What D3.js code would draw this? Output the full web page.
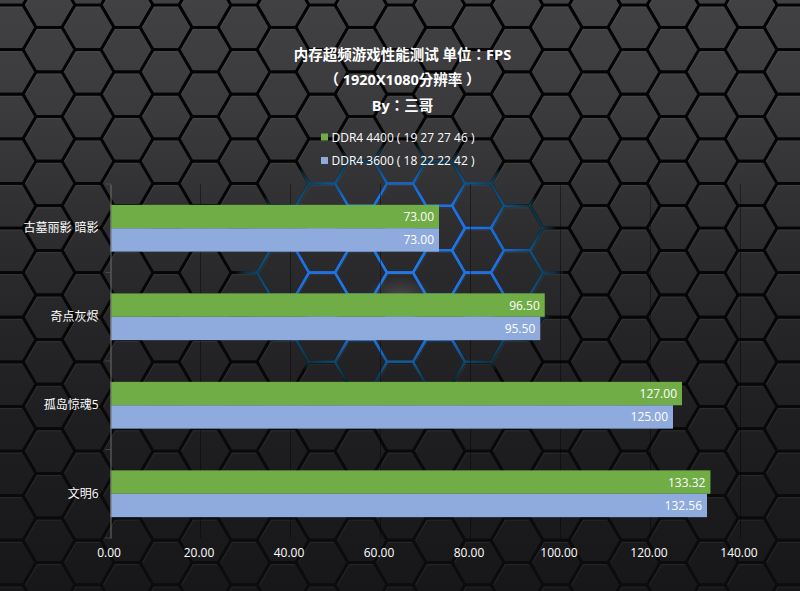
<!DOCTYPE html>
<html><head><meta charset="utf-8">
<script src="https://d3js.org/d3.v7.min.js"></script>
<style>html,body{margin:0;padding:0;background:#222;overflow:hidden}svg{display:block}text{font-family:"Open Sans","Noto Sans CJK SC",sans-serif;fill:#fff}</style>
</head><body><svg id="c" width="800" height="591"></svg>
<script>
const titleLines = ["内存超频游戏性能测试 单位：FPS", "（ 1920X1080分辨率 ）", "By：三哥"];
const categories = ["古墓丽影 暗影", "奇点灰烬", "孤岛惊魂5", "文明6"];
const seriesNames = ["DDR4 4400 ( 19 27 27 46 )", "DDR4 3600 ( 18 22 22 42 )"];
const seriesColors = ["#70ad47", "#8faadc"];
const ddr4400 = [73.00, 96.50, 127.00, 133.32];
const ddr3600 = [73.00, 95.50, 125.00, 132.56];
const xTicks = [0, 20, 40, 60, 80, 100, 120, 140];

const W = 800, H = 591;
const plot = {left: 110.5, right: 740.5, top: 184, bottom: 538};
const svg = d3.select("#c");
const defs = svg.append("defs");

// page background gradient
const bg = defs.append("linearGradient").attr("id","bg").attr("gradientUnits","userSpaceOnUse")
  .attr("x1",0).attr("y1",0).attr("x2",0).attr("y2",H);
[[0,"#414143"],[.2,"#3a3a3c"],[.45,"#2a2a2c"],[.7,"#1f1f21"],[1,"#171719"]].forEach(([o,c])=>bg.append("stop").attr("offset",o).attr("stop-color",c));
const line = defs.append("linearGradient").attr("id","ln").attr("gradientUnits","userSpaceOnUse")
  .attr("x1",0).attr("y1",0).attr("x2",0).attr("y2",H);
[[0,"#030303"],[.55,"#060606"],[1,"#0c0c0d"]].forEach(([o,c])=>line.append("stop").attr("offset",o).attr("stop-color",c));
const glow = defs.append("radialGradient").attr("id","glow").attr("gradientUnits","userSpaceOnUse")
  .attr("cx",0).attr("cy",0).attr("r",1)
  .attr("gradientTransform","translate(400 268) scale(165 125)");
[[0,"#2378e6",1],[.6,"#1f6fdc",1],[.8,"#135080",.9],[.93,"#103a4c",.6],[1,"#103a4c",0]].forEach(([o,c,a])=>glow.append("stop").attr("offset",o).attr("stop-color",c).attr("stop-opacity",a));
const spot = defs.append("radialGradient").attr("id","spot");
spot.append("stop").attr("offset",0).attr("stop-color","#5a5a5c").attr("stop-opacity",.7);
spot.append("stop").attr("offset",1).attr("stop-color","#5a5a5c").attr("stop-opacity",0);

// decorative honeycomb backdrop
svg.append("rect").attr("width",W).attr("height",H).attr("fill","url(#bg)");
const DX = 39, DY = 44.6, X0 = 49, Y0 = 49.6, HW = DX/1.5, HH = DY/2;
const hexPts = (cx,cy)=>[[cx+HW,cy],[cx+HW/2,cy+HH],[cx-HW/2,cy+HH],[cx-HW,cy],[cx-HW/2,cy-HH],[cx+HW/2,cy-HH]];
const cells = [];
for (let c=-2;c<23;c++) for (let r=-2;r<15;r++) cells.push([X0+c*DX, Y0+r*DY-(((c%2)+2)%2?HH:0)]);
const hexLine = d3.line().curve(d3.curveLinearClosed);
const bgG = svg.append("g");
bgG.append("ellipse").attr("cx",400).attr("cy",298).attr("rx",34).attr("ry",22).attr("fill","url(#spot)");
// soft highlight on the upper-left bevel of each cell
bgG.selectAll("path.b").data(cells).join("path").attr("class","b")
  .attr("d",d=>{const p=hexPts(d[0],d[1]).map(q=>[d[0]+(q[0]-d[0])*.9,d[1]+(q[1]-d[1])*.9]);return d3.line()([p[3],p[4],p[5]]);})
  .attr("fill","none").attr("stroke","#8a8a8c").attr("stroke-opacity",.13).attr("stroke-width",1);
bgG.selectAll("path.h").data(cells).join("path").attr("class","h")
  .attr("d",d=>hexLine(hexPts(d[0],d[1]))).attr("fill","none")
  .attr("stroke","url(#ln)").attr("stroke-width",2.7).attr("stroke-linejoin","round");
bgG.selectAll("path.g").data(cells.filter(d=>Math.hypot((d[0]-400)/200,(d[1]-268)/150)<1.2)).join("path").attr("class","g")
  .attr("d",d=>hexLine(hexPts(d[0],d[1]))).attr("fill","none")
  .attr("stroke","url(#glow)").attr("stroke-width",2.6).attr("stroke-linejoin","round");

// scales
const x = d3.scaleLinear().domain([0,140]).range([plot.left,plot.right]);
const y0 = d3.scaleBand().domain(categories).range([plot.top,plot.bottom]);
const barH = 23.4;
const fmt = d3.format(".2f");

// gridlines
svg.append("g").selectAll("line").data(xTicks.slice(1)).join("line")
  .attr("x1",d=>x(d)).attr("x2",d=>x(d)).attr("y1",plot.top).attr("y2",plot.bottom)
  .attr("stroke","#000").attr("stroke-opacity",.4).attr("stroke-width",1);

// bars
[ddr4400, ddr3600].forEach((vals,si)=>{
  const g = svg.append("g");
  const yOf = i=>y0(categories[i])+y0.bandwidth()/2+(si-1)*barH;
  g.selectAll("rect").data(vals).join("rect")
    .attr("x",x(0)).attr("y",(d,i)=>yOf(i)).attr("width",d=>x(d)-x(0)).attr("height",barH)
    .attr("fill",seriesColors[si]);
  g.selectAll("text").data(vals).join("text")
    .attr("x",d=>x(d)-5).attr("y",(d,i)=>yOf(i)+barH/2).attr("text-anchor","end")
    .attr("dominant-baseline","central").attr("font-size",12).text(d=>fmt(d));
});

// axes
const yAxis = svg.append("g").attr("transform",`translate(${plot.left},0)`)
  .call(d3.axisLeft(y0).tickSize(0).tickPadding(12));
yAxis.select(".domain").attr("stroke","#6f6f6f").attr("stroke-width",1);
yAxis.selectAll("text").attr("font-size",12).attr("dy",".34em").attr("fill","#f2f2f2").style("font-family",'"Open Sans","Noto Sans CJK SC"');
svg.append("g").selectAll("line").data(d3.range(categories.length+1)).join("line")
  .attr("x1",plot.left-5).attr("x2",plot.left)
  .attr("y1",i=>plot.top+i*y0.step()).attr("y2",i=>plot.top+i*y0.step())
  .attr("stroke","#6f6f6f").attr("stroke-opacity",.45);
const xAxis = svg.append("g").attr("transform",`translate(-2,${plot.bottom})`)
  .call(d3.axisBottom(x).tickValues(xTicks).tickFormat(fmt).tickSize(0).tickPadding(10));
xAxis.select(".domain").remove();
xAxis.selectAll("text").attr("font-size",12).attr("fill","#fff").style("font-family",'"Open Sans","Noto Sans CJK SC"');

// title
const tY = d3.scalePoint().domain(titleLines).range([54,105]);
svg.append("g").selectAll("text").data(titleLines).join("text")
  .attr("x",402.5).attr("y",d=>tY(d)).attr("text-anchor","middle").attr("dominant-baseline","central")
  .attr("font-size",14.5).attr("font-weight",700).style("font-family",'"Open Sans","Noto Sans CJK TC"').text(d=>d);

// legend
const lY = d3.scalePoint().domain(seriesNames).range([137,160.5]);
const lg = svg.append("g");
lg.selectAll("rect").data(seriesNames).join("rect")
  .attr("x",321).attr("y",d=>lY(d)-3.5).attr("width",7).attr("height",7)
  .attr("fill",(d,i)=>seriesColors[i]);
lg.selectAll("text").data(seriesNames).join("text")
  .attr("x",331.5).attr("y",d=>lY(d)).attr("dominant-baseline","central")
  .attr("font-size",12).text(d=>d);
</script></body></html>
